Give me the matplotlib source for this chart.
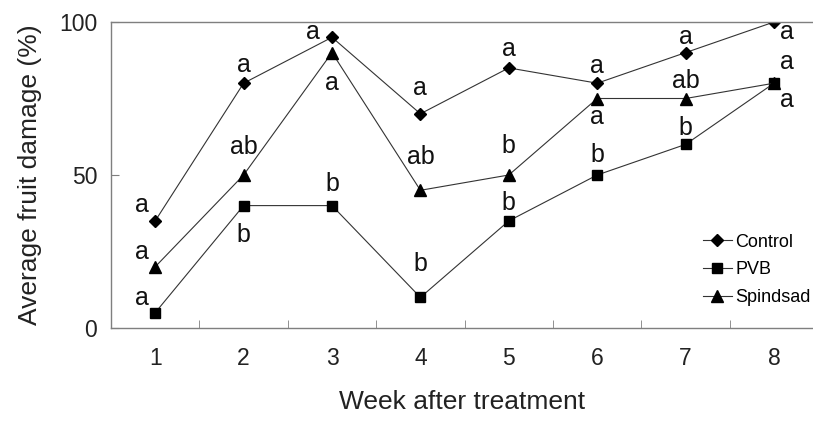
import numpy as np
import matplotlib
matplotlib.use("Agg")
import matplotlib.pyplot as plt

plt.rcParams['font.family'] = ['Liberation Sans', 'DejaVu Sans']

# data
weeks = [1, 2, 3, 4, 5, 6, 7, 8]
control = [35, 80, 95, 70, 85, 80, 90, 100]
pvb = [5, 40, 40, 10, 35, 50, 60, 80]
spinosad = [20, 50, 90, 45, 50, 75, 75, 80]

# significance letters per series
control_letters = ['a', 'a', 'a', 'a', 'a', 'a', 'a', 'a']
pvb_letters = ['a', 'b', 'b', 'b', 'b', 'b', 'b', 'a']
spinosad_letters = ['a', 'ab', 'a', 'ab', 'b', 'a', 'ab', 'a']

# label offsets in pixels (dx, dy) from each point
control_off = [(-13, 16), (0, 18), (-19, 5), (0, 26), (0, 19), (0, 17), (0, 16), (13, -10)]
pvb_off = [(-13, 15), (0, -29), (0, 22), (0, 33), (0, 18), (0, 20), (0, 16), (13, 21)]
spinosad_off = [(-13, 15), (0, 28), (0, -30), (0, 33), (0, 29), (0, -19), (0, 17), (13, -17)]

fig = plt.figure(figsize=(8.13, 4.21), dpi=100)
ax = fig.add_axes([111/813, 1-328/421, 1-111/813, (328-22)/421])

lc = '#333333'
ax.plot(weeks, control, '-', color=lc, lw=0.8, marker='D', ms=6.5, mfc='black', mec='black', label='Control')
ax.plot(weeks, pvb, '-', color=lc, lw=0.8, marker='s', ms=7, mfc='black', mec='black', label='PVB')
ax.plot(weeks, spinosad, '-', color=lc, lw=0.8, marker='^', ms=8, mfc='black', mec='black', label='Spindsad')

px = 72 / 100  # pixel -> points
for ys, letters, offs in [(control, control_letters, control_off),
                          (pvb, pvb_letters, pvb_off),
                          (spinosad, spinosad_letters, spinosad_off)]:
    for xv, yv, lab, (dx, dy) in zip(weeks, ys, letters, offs):
        ax.annotate(lab, (xv, yv), xytext=(dx*px, dy*px), textcoords='offset points',
                    ha='center', va='center', fontsize=18, color='#111111')

ax.set_xlim(0.5, 0.5 + 702/88.4)
ax.set_ylim(0, 100)
ax.set_yticks([0, 50, 100])
ax.set_xticks(weeks)
ax.set_xticks(np.arange(0.5, 8.5, 1), minor=True)
ax.tick_params(axis='x', which='major', length=0, pad=14, labelsize=16.5, labelcolor='#222222')
ax.tick_params(axis='x', which='minor', direction='in', length=6, color='#7f7f7f')
ax.tick_params(axis='y', direction='in', length=6, color='#7f7f7f', pad=10, labelsize=16.5, labelcolor='#222222')

for s in ['left', 'bottom', 'top']:
    ax.spines[s].set_color('#7f7f7f')
    ax.spines[s].set_linewidth(1)
ax.spines['right'].set_visible(False)

ax.set_xlabel('Week after treatment', fontsize=19, labelpad=14, color='#222222')
ax.set_ylabel('Average fruit damage (%)', fontsize=19, labelpad=12, color='#222222')

ax.legend(loc='center left', frameon=False, fontsize=13, handlelength=1.6,
          handletextpad=0.2, labelspacing=0.6, borderaxespad=0, borderpad=0)
leg = ax.get_legend()
leg.set_bbox_to_anchor((703/813, 1 - 270/421), transform=fig.transFigure)

fig.savefig('out.png', dpi=100)
